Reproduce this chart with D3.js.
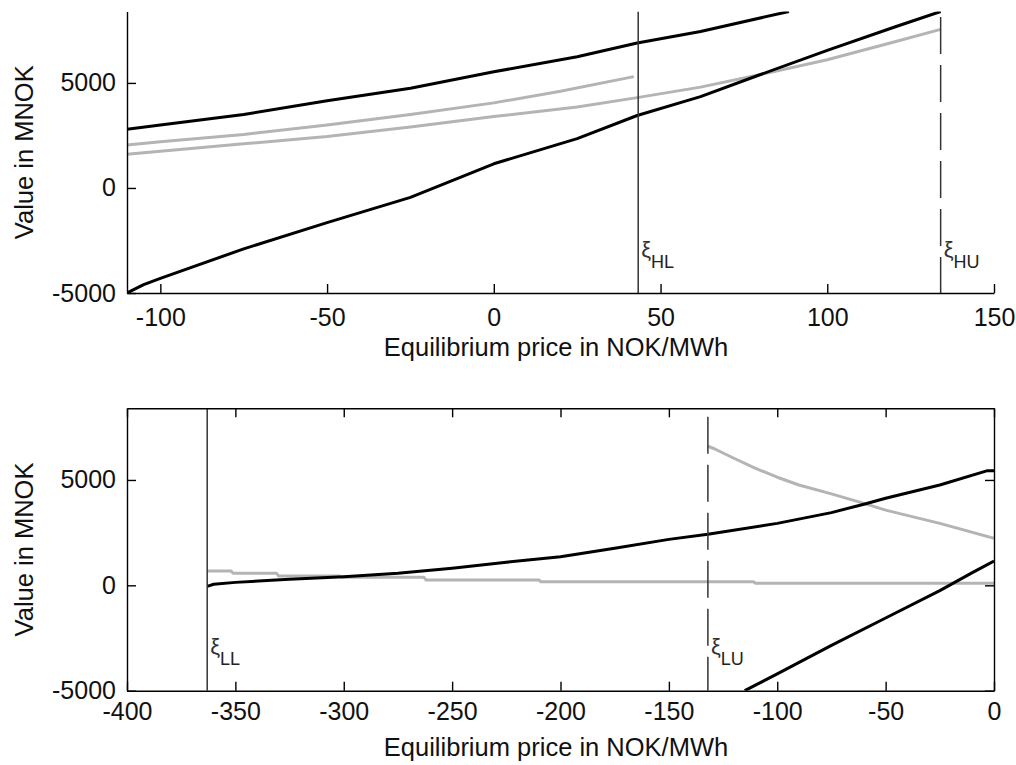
<!DOCTYPE html>
<html>
<head>
<meta charset="utf-8">
<script src="https://cdn.jsdelivr.net/npm/d3@7"></script>
<style>
  body { margin: 0; background: #fff; }
  text { font-family: "Liberation Sans", Arial, sans-serif; }
</style>
</head>
<body>
<div id="chart"></div>
<script>
// tick labels
const highXTicks = [-100, -50, 0, 50, 100, 150];
const lowXTicks = [-400, -350, -300, -250, -200, -150, -100, -50, 0];
const yTicks = [-5000, 0, 5000];

// upper panel (high price), [price, MNOK]
const highBlackUpper = [[-110, 2800], [-100, 3000], [-75, 3500], [-50, 4150], [-25, 4750], [0, 5530], [25, 6250], [43, 6900], [62, 7450], [88.5, 8400]];
const highBlackLower = [[-110, -5000], [-105, -4600], [-100, -4300], [-75, -2900], [-50, -1650], [-25, -450], [0, 1150], [25, 2350], [43, 3450], [62, 4350], [80, 5400], [100, 6550], [120, 7650], [134, 8400]];
const highGrayUpper = [[-110, 2050], [-100, 2200], [-75, 2550], [-50, 3000], [-25, 3500], [0, 4050], [20, 4600], [42, 5300]];
const highGrayLower = [[-110, 1600], [-100, 1750], [-75, 2100], [-50, 2450], [-25, 2900], [0, 3400], [25, 3850], [43, 4300], [62, 4800], [80, 5400], [100, 6100], [120, 6950], [134, 7550]];

// lower panel (low price)
const lowBlackUpper = [[-363, -50], [-360, 50], [-350, 140], [-325, 285], [-300, 410], [-275, 570], [-250, 810], [-225, 1095], [-200, 1360], [-175, 1760], [-150, 2180], [-132, 2420], [-100, 2940], [-75, 3450], [-60, 3850], [-50, 4130], [-25, 4760], [-3, 5440], [0, 5440]];
const lowGrayFlat = [[-363, 680], [-352, 680], [-351, 570], [-331, 570], [-330, 440], [-302, 440], [-301, 380], [-263, 380], [-262, 250], [-210, 250], [-209, 170], [-111, 170], [-110, 95], [0, 95]];
const lowGrayFalling = [[-132, 6600], [-129, 6480], [-125, 6280], [-120, 6030], [-110, 5550], [-100, 5130], [-90, 4760], [-75, 4340], [-60, 3890], [-50, 3570], [-25, 2940], [0, 2230]];
const lowBlackSteep = [[-115, -5000], [-100, -4200], [-75, -2850], [-50, -1550], [-25, -250], [-10, 600], [0, 1150]];

// thresholds
const xiHL = 43.3, xiHU = 134, xiLL = -363, xiLU = -132;

const W = 1016, H = 765;
const TICK = 9;
const BLACK = "#000", GRAY = "#b4b4b4";

const svg = d3.select("#chart").append("svg")
    .attr("width", W)
    .attr("height", H);

function drawPanel(cfg) {
    const x = d3.scaleLinear().domain(cfg.xDomain).range([127, 994]);
    const y = d3.scaleLinear().domain([-5000, 8400]).range(cfg.yRange);
    const g = svg.append("g");

    const clipId = "clip" + cfg.id;
    g.append("clipPath").attr("id", clipId)
        .append("rect")
        .attr("x", 127).attr("y", cfg.yRange[1])
        .attr("width", 994 - 127).attr("height", cfg.yRange[0] - cfg.yRange[1]);

    const line = d3.line().x(d => x(d[0])).y(d => y(d[1]));
    const plot = g.append("g").attr("clip-path", `url(#${clipId})`);

    cfg.series.forEach(s => {
        plot.append("path")
            .datum(s.data)
            .attr("d", line)
            .attr("fill", "none")
            .attr("stroke", s.color)
            .attr("stroke-width", 3)
            .attr("stroke-linejoin", "round");
    });

    cfg.marks.forEach(m => {
        plot.append("line")
            .attr("x1", x(m.x)).attr("x2", x(m.x))
            .attr("y1", m.top).attr("y2", cfg.yRange[0])
            .attr("stroke", "#333")
            .attr("stroke-width", 1.5)
            .attr("stroke-dasharray", m.dashed ? "37,11" : null);

        const t = g.append("text")
            .attr("x", x(m.x) + 3)
            .attr("y", m.labelY)
            .attr("fill", "#333");
        t.append("tspan").attr("font-size", 22).text("ξ");
        t.append("tspan").attr("font-size", 18).attr("dy", 11).attr("fill", "#222").text(m.sub);
    });

    const fmt = d => String(d);
    g.append("g")
        .attr("transform", `translate(0,${cfg.yRange[0]})`)
        .call(d3.axisBottom(x).tickValues(cfg.xTicks).tickSize(-TICK).tickSizeOuter(0).tickPadding(cfg.xPad).tickFormat(fmt));
    g.append("g")
        .attr("transform", "translate(127,0)")
        .call(d3.axisLeft(y).tickValues(yTicks).tickSize(-TICK).tickSizeOuter(0).tickPadding(11).tickFormat(fmt));

    if (cfg.box) {
        g.append("g")
            .attr("transform", `translate(0,${cfg.yRange[1]})`)
            .call(d3.axisTop(x).tickValues(cfg.xTicks).tickSize(-TICK).tickSizeOuter(0).tickFormat(""));
        g.append("g")
            .attr("transform", "translate(994,0)")
            .call(d3.axisRight(y).tickValues(yTicks).tickSize(-TICK).tickSizeOuter(0).tickFormat(""));
    }

    g.selectAll(".domain, .tick line").attr("stroke", "#000").attr("stroke-width", 1.4);
    g.selectAll(".tick text")
        .attr("font-size", 25)
        .attr("font-family", '"Liberation Sans", Arial, sans-serif')
        .attr("fill", "#111");

    g.append("text")
        .attr("x", 556)
        .attr("y", cfg.xLabelY)
        .attr("text-anchor", "middle")
        .attr("font-size", 25.5)
        .attr("fill", "#111")
        .text("Equilibrium price in NOK/MWh");

    const midY = (cfg.yRange[0] + cfg.yRange[1]) / 2;
    g.append("text")
        .attr("transform", `translate(33,${midY}) rotate(-90)`)
        .attr("text-anchor", "middle")
        .attr("font-size", 25.5)
        .attr("fill", "#111")
        .text("Value in MNOK");
}

drawPanel({
    id: "high",
    xDomain: [-110, 150],
    xTicks: highXTicks,
    yRange: [293, 11.5],
    xPad: 15,
    xLabelY: 356,
    box: false,
    series: [
        { data: highGrayUpper, color: GRAY },
        { data: highGrayLower, color: GRAY },
        { data: highBlackUpper, color: BLACK },
        { data: highBlackLower, color: BLACK }
    ],
    marks: [
        { x: xiHL, top: 11.5, dashed: false, sub: "HL", labelY: 257 },
        { x: xiHU, top: 17, dashed: true, sub: "HU", labelY: 257 }
    ]
});

drawPanel({
    id: "low",
    xDomain: [-400, 0],
    xTicks: lowXTicks,
    yRange: [690.7, 408.3],
    xPad: 12,
    xLabelY: 756,
    box: true,
    series: [
        { data: lowGrayFlat, color: GRAY },
        { data: lowGrayFalling, color: GRAY },
        { data: lowBlackUpper, color: BLACK },
        { data: lowBlackSteep, color: BLACK }
    ],
    marks: [
        { x: xiLL, top: 408.3, dashed: false, sub: "LL", labelY: 654 },
        { x: xiLU, top: 416.7, dashed: true, sub: "LU", labelY: 654 }
    ]
});
</script>
</body>
</html>
